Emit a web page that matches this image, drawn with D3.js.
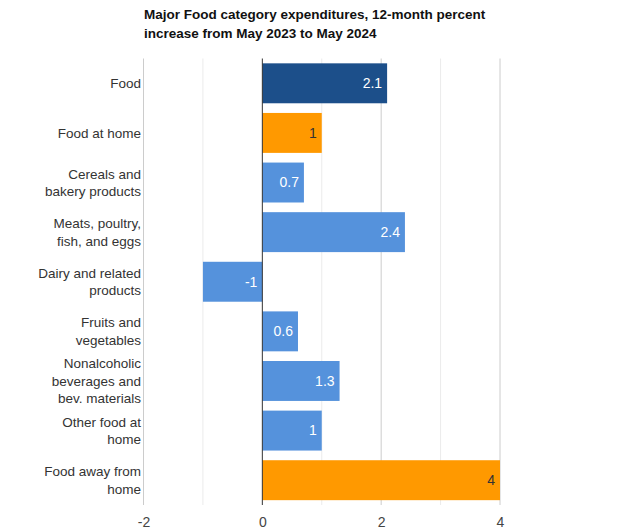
<!DOCTYPE html>
<html><head><meta charset="utf-8">
<script src="https://cdn.jsdelivr.net/npm/d3@7"></script>
<style>body{margin:0;background:#fff;font-family:"Liberation Sans",Arial,sans-serif;}</style>
</head><body><svg id="c" width="640" height="531"></svg>
<script>
const titleLines = ["Major Food category expenditures, 12-month percent", "increase from May 2023 to May 2024"];
const categories = [
  ["Food"],
  ["Food at home"],
  ["Cereals and", "bakery products"],
  ["Meats, poultry,", "fish, and eggs"],
  ["Dairy and related", "products"],
  ["Fruits and", "vegetables"],
  ["Nonalcoholic", "beverages and", "bev. materials"],
  ["Other food at", "home"],
  ["Food away from", "home"]
];
const values = [2.1, 1, 0.7, 2.4, -1, 0.6, 1.3, 1, 4];
const groups = ["total", "sub", "item", "item", "item", "item", "item", "item", "sub"];
const tickValues = [-2, 0, 2, 4];
const minorTicks = [-1, 1, 3];

const colors = {total: "#1c4f8a", sub: "#ff9900", item: "#5592dc"};
const labelColors = {total: "#ffffff", sub: "#333333", item: "#ffffff"};

const svg = d3.select("#c");
const x = d3.scaleLinear().domain([-2, 4]).range([143.5, 500]);
const y = d3.scaleBand().domain(d3.range(values.length)).range([58.5, 505]).paddingInner(0.195).paddingOuter(0.0975);

// title
svg.append("text").attr("x", 144).attr("y", 18.5)
  .style("font-size", "13.5px").style("font-weight", "bold").style("fill", "#111")
  .selectAll("tspan").data(titleLines).join("tspan")
  .attr("x", 144).attr("dy", (d, i) => i ? 19 : 0).text(d => d);

// grid
svg.append("g").selectAll("line").data(minorTicks).join("line")
  .attr("x1", d => x(d)).attr("x2", d => x(d)).attr("y1", 58.5).attr("y2", 505)
  .attr("stroke", "#ebebeb").attr("stroke-width", 1);
svg.append("g").selectAll("line").data(tickValues.filter(d => d !== 0)).join("line")
  .attr("x1", d => x(d)).attr("x2", d => x(d)).attr("y1", 58.5).attr("y2", 505)
  .attr("stroke", "#cccccc").attr("stroke-width", 1);

// bars
svg.append("g").selectAll("rect").data(values).join("rect")
  .attr("x", d => x(Math.min(0, d)))
  .attr("width", d => Math.abs(x(d) - x(0)))
  .attr("y", (d, i) => y(i))
  .attr("height", y.bandwidth())
  .attr("fill", (d, i) => colors[groups[i]]);

// zero line
svg.append("line").attr("x1", x(0)).attr("x2", x(0)).attr("y1", 58.5).attr("y2", 505)
  .attr("stroke", "#333").attr("stroke-width", 1);

// value labels
svg.append("g").selectAll("text").data(values).join("text")
  .attr("x", d => x(Math.max(0, d)) - 5)
  .attr("y", (d, i) => y(i) + y.bandwidth() / 2)
  .attr("dy", "0.35em").attr("text-anchor", "end")
  .style("font-size", "14px")
  .style("fill", (d, i) => labelColors[groups[i]])
  .text(d => String(d));

// category labels
const cl = svg.append("g").selectAll("text").data(categories).join("text")
  .attr("text-anchor", "end").style("font-size", "13.5px").style("fill", "#333");
cl.each(function(lines, i) {
  const cy = y(i) + y.bandwidth() / 2;
  const lh = 17.5;
  const start = cy - (lines.length - 1) * lh / 2;
  d3.select(this).selectAll("tspan").data(lines).join("tspan")
    .attr("x", 141).attr("y", (d, j) => start + j * lh).attr("dy", "0.35em").text(d => d);
});

// x axis
const ax = svg.append("g").attr("transform", "translate(0,505)")
  .call(d3.axisBottom(x).tickValues(tickValues).tickSize(0).tickPadding(12).tickFormat(d => String(d)));
ax.select(".domain").remove();
ax.selectAll("text").style("font-size", "14px").style("fill", "#444").style("font-family", "'Liberation Sans',Arial,sans-serif");
</script></body></html>
